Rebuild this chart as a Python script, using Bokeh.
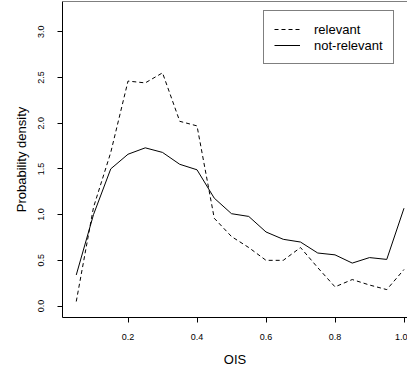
from bokeh.plotting import figure
from bokeh.models import (ColumnDataSource, Range1d, FixedTicker, PrintfTickFormatter,
                          Legend, LegendItem, Span)
from bokeh.embed import file_html
from bokeh.resources import INLINE

# ---- data ----
ois = [0.05, 0.10, 0.15, 0.20, 0.25, 0.30, 0.35, 0.40, 0.45, 0.50,
       0.55, 0.60, 0.65, 0.70, 0.75, 0.80, 0.85, 0.90, 0.95, 1.00]
relevant = [0.05, 1.08, 1.68, 2.46, 2.44, 2.55, 2.02, 1.97, 0.96, 0.76,
            0.64, 0.50, 0.50, 0.64, 0.42, 0.21, 0.29, 0.23, 0.18, 0.40]
not_relevant = [0.34, 1.00, 1.50, 1.66, 1.73, 1.68, 1.55, 1.49, 1.18, 1.01,
                0.98, 0.81, 0.73, 0.70, 0.58, 0.56, 0.47, 0.53, 0.51, 1.07]
x_ticks = [0.2, 0.4, 0.6, 0.8, 1.0]
y_ticks = [0.0, 0.5, 1.0, 1.5, 2.0, 2.5, 3.0]
series_names = ["relevant", "not-relevant"]
x_title = "OIS"
y_title = "Probability density"

FONT = "Liberation Sans"
Y_TOP = 3.33

src = ColumnDataSource(dict(x=ois, rel=relevant, nrel=not_relevant))

p = figure(width=407, height=372, output_backend="svg", toolbar_location=None,
           x_range=Range1d(0.0101, 1.0101), y_range=Range1d(-0.125, Y_TOP),
           min_border_left=62, min_border_right=0, min_border_top=1,
           min_border_bottom=55)
p.outline_line_color = None
p.grid.visible = False
p.background_fill_color = "white"
p.border_fill_color = "white"

r_rel = p.line("x", "rel", source=src, line_color="black", line_width=1,
               line_dash="4 3")
r_nrel = p.line("x", "nrel", source=src, line_color="black", line_width=1)

# top border of the box
p.add_layout(Span(location=Y_TOP, dimension="width", line_color="black",
                  line_width=1))

for ax in (p.xaxis[0], p.yaxis[0]):
    ax.axis_line_color = "black"
    ax.major_tick_line_color = "black"
    ax.minor_tick_line_color = None
    ax.major_tick_in = 0
    ax.major_tick_out = 5
    ax.major_label_text_font = FONT
    ax.major_label_text_font_size = "9px"
    ax.major_label_text_color = "black"
    ax.axis_label_text_font = FONT
    ax.axis_label_text_font_size = "13px"
    ax.axis_label_text_font_style = "normal"
    ax.axis_label_text_color = "black"
    ax.formatter = PrintfTickFormatter(format="%.1f")

p.xaxis[0].ticker = FixedTicker(ticks=x_ticks)
p.yaxis[0].ticker = FixedTicker(ticks=y_ticks)
p.xaxis[0].axis_label = x_title
p.yaxis[0].axis_label = y_title
p.xaxis[0].major_label_standoff = 11
p.xaxis[0].axis_label_standoff = 9
p.yaxis[0].major_label_orientation = "vertical"
p.yaxis[0].major_label_standoff = 13
p.yaxis[0].axis_label_standoff = 7

legend = Legend(items=[LegendItem(label=series_names[0], renderers=[r_rel]),
                       LegendItem(label=series_names[1], renderers=[r_nrel])],
                location=(201, 253))
legend.border_line_color = "black"
legend.border_line_width = 1
legend.background_fill_color = "white"
legend.background_fill_alpha = 1
legend.label_text_font = FONT
legend.label_text_font_size = "13px"
legend.label_text_color = "black"
legend.glyph_width = 26
legend.glyph_height = 16
legend.label_height = 16
legend.label_standoff = 14
legend.spacing = 0
legend.padding = 10
legend.margin = 0
p.add_layout(legend, "center")

open("out.html", "w").write(file_html(p, INLINE))
